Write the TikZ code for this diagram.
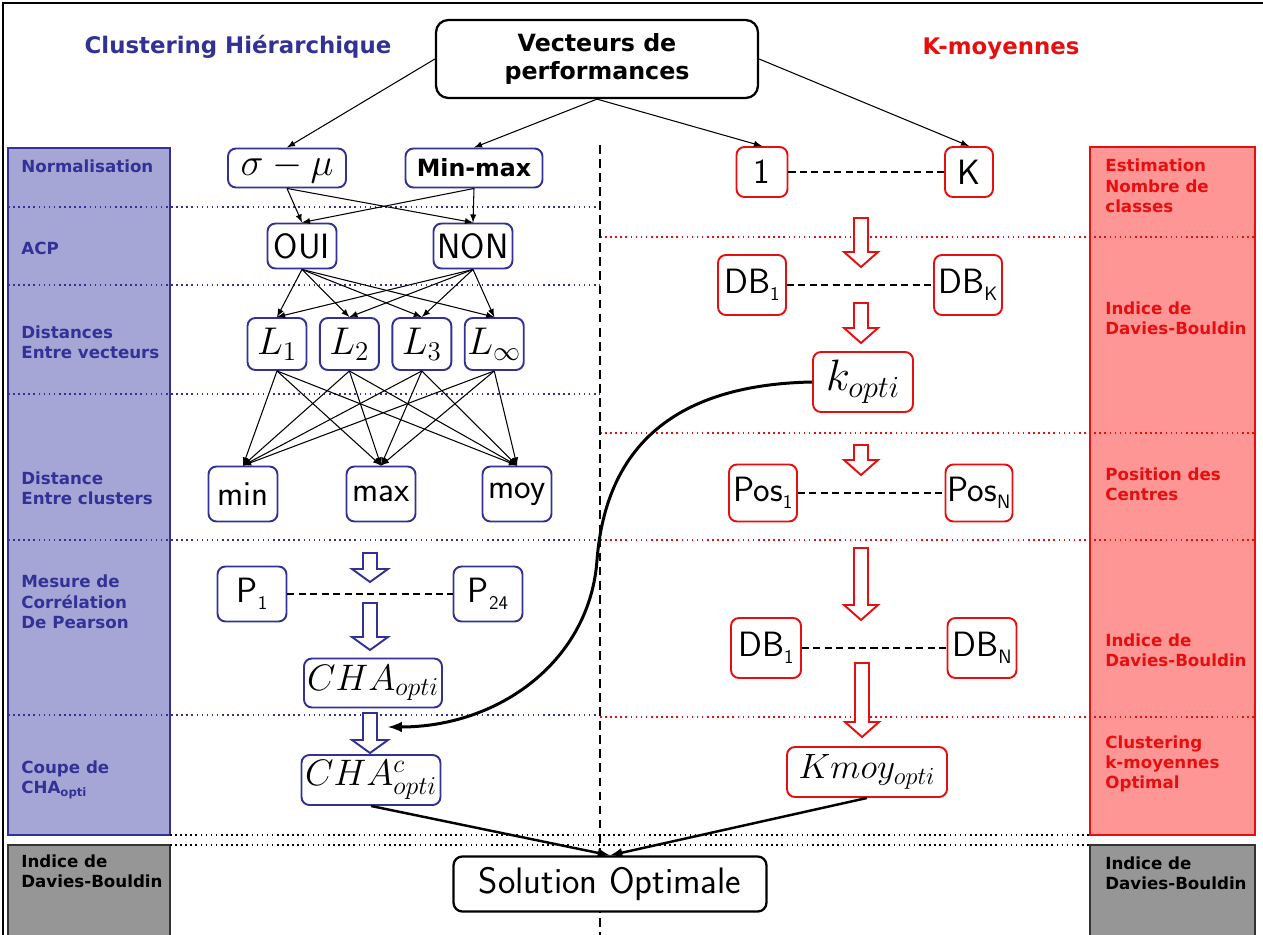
\documentclass[tikz,border=0pt]{standalone}
\usepackage{fix-cm}
\usepackage{fontspec}
\newfontfamily\verd{DejaVu Sans}
\usetikzlibrary{positioning,arrows}

\definecolor{navy}{RGB}{50,50,150}
\definecolor{lav}{RGB}{166,166,214}
\definecolor{kred}{RGB}{230,15,15}
\definecolor{pinkred}{RGB}{255,150,150}
\definecolor{dgray}{RGB}{150,150,150}

\newcommand{\lowsub}[1]{\raisebox{-0.5ex}{\fontsize{11}{11}\selectfont #1}}

\begin{document}
\begin{tikzpicture}[x=0.02cm,y=-0.02cm]
\tikzstyle{hbox}=[rectangle, rounded corners=4.5pt, draw=navy, line width=1.1pt, fill=white, inner sep=0pt, font=\sffamily\fontsize{20}{24}\selectfont]
\tikzstyle{kbox}=[hbox, draw=kred]
\tikzstyle{lbl}=[anchor=west, align=left, inner sep=0pt, font=\verd\bfseries\fontsize{9.5}{11.6}\selectfont]
\tikzstyle{connect}=[-latex, line width=0.6pt]
\tikzstyle{bigconnect}=[-latex, line width=1.4pt]
\tikzstyle{pair}=[dash pattern=on 4pt off 2.5pt, line width=0.9pt]
\tikzstyle{sep}=[dotted, line width=0.9pt]
\useasboundingbox (0,0) rectangle (1263,935);
\draw[line width=0.8pt] (3,940) -- (3,3) -- (1263,3);

% side columns
\draw[navy, line width=1.1pt, fill=lav] (8,148) rectangle (170,835);
\draw[kred, line width=1.1pt, fill=pinkred] (1090,147) rectangle (1255,835);
\draw[black!80, line width=1.1pt, fill=dgray] (8,845) rectangle (170,945);
\draw[black!80, line width=1.1pt, fill=dgray] (1090,845) rectangle (1255,945);

\foreach \y in {207,285,394,540,715}
  \draw[sep, navy] (8,\y) -- (600,\y);
\foreach \y in {237,433,540,717}
  \draw[sep, kred] (600,\y) -- (1255,\y);
\draw[sep] (170,835) -- (1090,835);
\draw[sep] (170,845) -- (1090,845);
\draw[line width=1.1pt, dash pattern=on 5pt off 3pt] (600,145) -- (600,940);

% titles
\node[text=navy, font=\verd\bfseries\fontsize{13}{15}\selectfont] (tleft) at (238,47) {Clustering Hiérarchique};
\node[text=kred, font=\verd\bfseries\fontsize{13}{15}\selectfont] (tright) at (1001,49) {K-moyennes};
\node[rectangle, rounded corners=7pt, draw, line width=1.3pt, fill=white, minimum width=64.4mm, minimum height=15.6mm, align=center, font=\verd\bfseries\fontsize{13.5}{15.5}\selectfont] (vec) at (597,59) {Vecteurs de\\performances};

% row labels
\node[lbl, text=navy] (n1) at (21,166) {Normalisation};
\node[lbl, text=navy] (n2) at (21,248) {ACP};
\node[lbl, text=navy] (n3) at (21,342) {Distances\\Entre vecteurs};
\node[lbl, text=navy] (n4) at (21,488) {Distance\\Entre clusters};
\node[lbl, text=navy] (n5) at (21,602) {Mesure de\\Corrélation\\De Pearson};
\node[lbl, text=navy] (n6) at (21,780) {Coupe de\\CHA\textsubscript{opti}};
\node[lbl] (n7) at (21,871) {Indice de\\Davies-Bouldin};
\node[lbl, text=kred] (r1) at (1105,186) {Estimation\\Nombre de\\classes};
\node[lbl, text=kred] (r2) at (1105,318) {Indice de\\Davies-Bouldin};
\node[lbl, text=kred] (r3) at (1105,484) {Position des\\Centres};
\node[lbl, text=kred] (r4) at (1105,650) {Indice de\\Davies-Bouldin};
\node[lbl, text=kred] (r5) at (1105,764) {Clustering\\k-moyennes\\Optimal};
\node[lbl] (r6) at (1105,873) {Indice de\\Davies-Bouldin};

% hierarchical side
\node[hbox, minimum width=23.6mm, minimum height=7.8mm, font=\fontsize{22}{26}\selectfont] (sigmu) at (287,168) {$\sigma-\mu$};
\node[hbox, minimum width=27.4mm, minimum height=7.8mm, font=\verd\bfseries\fontsize{13.5}{15}\selectfont] (minmax) at (474,168) {Min-max};
\node[hbox, minimum width=13.8mm, minimum height=9mm] (oui) at (302,246) {OUI};
\node[hbox, minimum width=15.8mm, minimum height=9mm] (non) at (473,246) {NON};
\node[hbox, minimum width=11.8mm, minimum height=10.4mm, font=\fontsize{22}{26}\selectfont] (L1) at (277,344) {$L_1$};
\node[hbox, minimum width=11.8mm, minimum height=10.4mm, font=\fontsize{22}{26}\selectfont] (L2) [right=2.3mm of L1] {$L_2$};
\node[hbox, minimum width=11.8mm, minimum height=10.4mm, font=\fontsize{22}{26}\selectfont] (L3) [right=2.3mm of L2] {$L_3$};
\node[hbox, minimum width=11.8mm, minimum height=10.4mm, font=\fontsize{22}{26}\selectfont] (Linf) [right=2.3mm of L3] {$L_\infty$};
\node[hbox, minimum width=13.8mm, minimum height=11mm] (dmin) at (243,494) {min};
\node[hbox, minimum width=13.8mm, minimum height=11mm] (dmax) at (381,494) {max};
\node[hbox, minimum width=13.8mm, minimum height=11mm] (dmoy) at (517,494) {moy};
\node[hbox, minimum width=13.8mm, minimum height=11mm] (P1) at (252,594) {P\lowsub{1}};
\node[hbox, minimum width=13.8mm, minimum height=11mm] (P24) at (488,594) {P\lowsub{24}};
\node[hbox, minimum width=27.6mm, minimum height=9.8mm, font=\fontsize{21}{25}\selectfont] (chaopt) at (373,683) {$CHA_{opti}$};
\node[hbox, minimum width=27.8mm, minimum height=10mm, font=\fontsize{21}{25}\selectfont] (chac) at (371,780) {$CHA^c_{opti}$};

% k-means side
\node[kbox, minimum width=10.2mm, minimum height=10mm] (k1) at (762,172) {1};
\node[kbox, minimum width=9.6mm, minimum height=10mm] (kK) at (969,172) {K};
\node[kbox, minimum width=13.6mm, minimum height=12mm] (db1) at (752,285) {DB\lowsub{1}};
\node[kbox, minimum width=13.6mm, minimum height=12mm] (dbK) at (968,285) {DB\lowsub{K}};
\node[kbox, minimum width=20mm, minimum height=12mm, font=\fontsize{25}{30}\selectfont] (kopt) at (863,382) {$k_{opti}$};
\node[kbox, minimum width=13.6mm, minimum height=11.4mm] (pos1) at (763,493) {Pos\lowsub{1}};
\node[kbox, minimum width=13.4mm, minimum height=11.4mm] (posN) at (979,493) {Pos\lowsub{N}};
\node[kbox, minimum width=14mm, minimum height=12mm] (dbb1) at (766,648) {DB\lowsub{1}};
\node[kbox, minimum width=13.8mm, minimum height=12mm] (dbN) at (982,648) {DB\lowsub{N}};
\node[kbox, minimum width=32mm, minimum height=10mm, font=\fontsize{20}{24}\selectfont] (kmoy) at (867,772) {$Kmoy_{opti}$};

\node[rectangle, rounded corners=5pt, draw, line width=1.3pt, fill=white, minimum width=62.6mm, minimum height=11mm, font=\sffamily\fontsize{21}{25}\selectfont] (sol) at (610,884) {Solution Optimale};

% connectors
\path (vec.west) edge [connect] (sigmu.north)
      (vec.south) edge [connect] (minmax.north)
      (vec.south) edge [connect] (k1.north)
      (vec.east) edge [connect] (kK.north);
\path (sigmu.south) edge [connect] (oui.north)
      (sigmu.south) edge [connect] (non.north)
      (minmax.south) edge [connect] (oui.north)
      (minmax.south) edge [connect] (non.north);
\foreach \a in {oui,non}
  \foreach \b in {L1,L2,L3,Linf}
    \path (\a.south) edge [connect] (\b.north);
\foreach \a in {L1,L2,L3,Linf}
  \foreach \b in {dmin,dmax,dmoy}
    \path (\a.south) edge [connect] (\b.north);

\draw[pair] (P1) -- (P24);
\draw[pair] (k1) -- (kK);
\draw[pair] (db1) -- (dbK);
\draw[pair] (pos1) -- (posN);
\draw[pair] (dbb1) -- (dbN);

% hollow arrows
\foreach \x/\ya/\yb in {370/553/582, 370/603/650, 370/713/753}
  \draw[navy, line width=1.1pt, fill=white] (\x-7,\ya) -- (\x+7,\ya) -- (\x+7,\yb-13) -- (\x+18,\yb-13) -- (\x,\yb) -- (\x-18,\yb-13) -- (\x-7,\yb-13) -- cycle;
\foreach \x/\ya/\yb in {861/218/267, 861/303/343, 861/445/475, 861/548/620, 862/663/737}
  \draw[kred, line width=1.1pt, fill=white] (\x-7,\ya) -- (\x+7,\ya) -- (\x+7,\yb-15) -- (\x+17,\yb-15) -- (\x,\yb) -- (\x-17,\yb-15) -- (\x-7,\yb-15) -- cycle;

\coordinate (cut) at (388,727);
\draw[line width=1.7pt, -latex] (kopt.west) .. controls (660,385) and (605,460) .. (597,560) .. controls (590,660) and (500,727) .. (cut);
\path (chac.south) edge [bigconnect] (sol.north)
      (kmoy.south) edge [bigconnect] (sol.north);
\end{tikzpicture}
\end{document}
